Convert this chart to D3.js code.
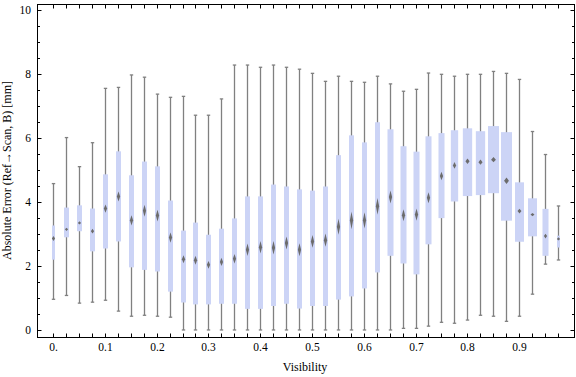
<!DOCTYPE html>
<meta charset="utf-8">
<style>
body { margin: 0; background: #fff; }
text { font-family: "Liberation Serif", "DejaVu Serif", serif; fill: #000; }
</style>
<svg width="576" height="377"></svg>
<script src="https://cdn.jsdelivr.net/npm/d3@7"></script>
<script>

// visibility categories and box statistics (absolute error, mm)
var visibility = [0, 0.025, 0.05, 0.075, 0.1, 0.125, 0.15, 0.175, 0.2, 0.225,
  0.25, 0.275, 0.3, 0.325, 0.35, 0.375, 0.4, 0.425, 0.45, 0.475,
  0.5, 0.525, 0.55, 0.575, 0.6, 0.625, 0.65, 0.675, 0.7, 0.725,
  0.75, 0.775, 0.8, 0.825, 0.85, 0.875, 0.9, 0.925, 0.95, 0.975];

var lows = [0.96, 1.08, 0.84, 0.87, 0.93, 0.59, 0.43, 0.46, 0.43, 0.40,
  0, 0, 0, 0, 0, 0, 0, 0, 0, 0,
  0, 0, 0, 0, 0, 0, 0, 0.05, 0.05, 0.12,
  0.24, 0.21, 0.31, 0.46, 0.43, 0.27, 0.43, 1.12, 2.06, 2.19];

var q1s = [2.20, 2.90, 3.09, 2.46, 2.55, 2.77, 1.96, 1.88, 1.83, 1.20,
  0.86, 0.80, 0.80, 0.82, 0.82, 0.66, 0.66, 0.75, 0.82, 0.67,
  0.75, 0.75, 0.95, 1.05, 1.30, 1.80, 2.32, 2.08, 1.74, 2.68,
  3.50, 4.02, 4.19, 4.22, 4.28, 3.42, 2.76, 2.93, 2.32, 2.58];

var medians = [2.86, 3.15, 3.35, 3.09, 3.80, 4.18, 3.43, 3.73, 3.58, 2.89,
  2.21, 2.18, 2.04, 2.13, 2.23, 2.51, 2.59, 2.57, 2.72, 2.51,
  2.77, 2.81, 3.23, 3.43, 3.43, 3.87, 4.16, 3.59, 3.61, 4.14,
  4.82, 5.15, 5.28, 5.25, 5.33, 4.67, 3.72, 3.61, 2.94, 2.85];

var q3s = [3.27, 3.83, 3.90, 3.80, 4.87, 5.59, 4.84, 5.27, 5.12, 4.05,
  3.11, 3.36, 2.98, 3.17, 3.49, 4.18, 4.18, 4.55, 4.49, 4.40,
  4.36, 4.49, 5.47, 6.09, 5.87, 6.50, 6.28, 5.75, 5.58, 6.06,
  6.16, 6.25, 6.31, 6.22, 6.38, 6.19, 4.62, 4.12, 3.79, 2.95];

var highs = [4.58, 6.02, 5.11, 5.86, 7.56, 7.59, 7.98, 7.91, 7.38, 7.28,
  7.31, 6.72, 6.72, 7.23, 8.29, 8.29, 8.22, 8.29, 8.22, 8.16,
  8.03, 7.78, 7.94, 7.78, 7.75, 7.94, 7.70, 7.47, 7.53, 8.04,
  8.00, 7.94, 8.00, 8.00, 8.09, 8.03, 7.84, 6.21, 5.49, 3.88];

// sample counts per bin (box width is proportional)
var counts = [480, 800, 800, 800, 800, 800, 800, 800, 800, 800,
  800, 800, 800, 800, 800, 800, 800, 800, 800, 800,
  800, 800, 800, 800, 800, 800, 960, 960, 960, 960,
  960, 1170, 1490, 1490, 1760, 1760, 1440, 1440, 960, 480];

var xTickValues = [0, 0.1, 0.2, 0.3, 0.4, 0.5, 0.6, 0.7, 0.8, 0.9];
var yTickValues = [0, 2, 4, 6, 8, 10];
var yMinorValues = [0.5, 1, 1.5, 2.5, 3, 3.5, 4.5, 5, 5.5, 6.5, 7, 7.5, 8.5, 9, 9.5];

var svg = d3.select("svg");
var pLeft = 37, pRight = 575, pTop = 4, pBottom = 337;

var x = d3.scaleLinear().domain([-0.031, 1.008]).range([pLeft, pRight]);
var y = d3.scaleLinear().domain([-0.22, 10.2]).range([pBottom, pTop]);
var w = d3.scaleLinear().domain([0, 1760]).range([0, 11]);

var data = visibility.map(function (v, i) {
  return { v: v, lo: lows[i], q1: q1s[i], med: medians[i], q3: q3s[i], hi: highs[i], n: counts[i] };
});

var defs = svg.append("defs");
defs.append("filter").attr("id", "soft")
    .attr("x", "-50%").attr("y", "-50%").attr("width", "200%").attr("height", "200%")
  .append("feGaussianBlur").attr("stdDeviation", 0.55);

var plot = svg.append("g");

// whiskers
var whisk = plot.append("g").attr("stroke", "#808080").attr("stroke-width", 1.3).attr("fill", "none");
data.forEach(function (d) {
  var cx = Math.round(x(d.v)) + 0.5;
  whisk.append("line").attr("x1", cx).attr("x2", cx).attr("y1", y(d.lo)).attr("y2", y(d.hi));
  whisk.append("line").attr("x1", cx - 1.7).attr("x2", cx + 1.7).attr("y1", y(d.hi)).attr("y2", y(d.hi));
  whisk.append("line").attr("x1", cx - 1.7).attr("x2", cx + 1.7).attr("y1", y(d.lo)).attr("y2", y(d.lo));
});

// boxes
plot.append("g").selectAll("rect")
  .data(data)
  .enter().append("rect")
    .attr("x", function (d) { return Math.round(x(d.v)) + 0.5 - w(d.n) / 2; })
    .attr("width", function (d) { return w(d.n); })
    .attr("y", function (d) { return y(d.q3); })
    .attr("height", function (d) { return y(d.q1) - y(d.q3); })
    .attr("fill", "#ccd4f6");

// median markers: diamond spanning the ~95% interval of the median
plot.append("g").attr("filter", "url(#soft)").selectAll("path")
  .data(data)
  .enter().append("path")
    .attr("fill", "#6c6c6c")
    .attr("d", function (d) {
      var cx = Math.round(x(d.v)) + 0.5, cy = y(d.med);
      var half = 1.57 * (d.q3 - d.q1) / Math.sqrt(d.n);
      var hh = Math.max(1.6, y(0) - y(half));
      var hw = Math.max(1.6, w(d.n) * 0.22);
      return "M" + cx + "," + (cy - hh) + "L" + (cx + hw) + "," + cy +
             "L" + cx + "," + (cy + hh) + "L" + (cx - hw) + "," + cy + "Z";
    });

// frame
var frame = svg.append("g").attr("stroke", "#000").attr("stroke-width", 1).attr("fill", "none");
frame.append("rect").attr("x", pLeft + 0.5).attr("y", pTop + 0.5)
    .attr("width", pRight - pLeft - 1).attr("height", pBottom - pTop);

// x ticks at every bin, top and bottom, pointing inward
visibility.forEach(function (v) {
  var px = Math.round(x(v)) + 0.5;
  frame.append("line").attr("x1", px).attr("x2", px).attr("y1", pBottom + 0.5).attr("y2", pBottom - 3.5);
  frame.append("line").attr("x1", px).attr("x2", px).attr("y1", pTop + 0.5).attr("y2", pTop + 4.5);
});

// y ticks, left and right
yTickValues.forEach(function (v) {
  var py = Math.round(y(v)) + 0.5;
  frame.append("line").attr("x1", pLeft + 0.5).attr("x2", pLeft + 4.5).attr("y1", py).attr("y2", py);
  frame.append("line").attr("x1", pRight - 0.5).attr("x2", pRight - 4.5).attr("y1", py).attr("y2", py);
});
yMinorValues.forEach(function (v) {
  var py = Math.round(y(v)) + 0.5;
  frame.append("line").attr("x1", pLeft + 0.5).attr("x2", pLeft + 3).attr("y1", py).attr("y2", py);
  frame.append("line").attr("x1", pRight - 0.5).attr("x2", pRight - 3).attr("y1", py).attr("y2", py);
});

// tick labels
svg.append("g").selectAll("text")
  .data(xTickValues)
  .enter().append("text")
    .attr("x", function (d) { return Math.round(x(d)) + 0.5; })
    .attr("y", 351)
    .attr("text-anchor", "middle")
    .style("font-size", "11.5px")
    .text(function (d) { return d === 0 ? "0." : d3.format(".1f")(d); });

svg.append("g").selectAll("text")
  .data(yTickValues)
  .enter().append("text")
    .attr("x", 31)
    .attr("y", function (d) { return y(d) + 4; })
    .attr("text-anchor", "end")
    .style("font-size", "11.5px")
    .text(function (d) { return d; });

// axis titles
svg.append("text")
    .attr("x", (pLeft + pRight) / 2 - 1)
    .attr("y", 371)
    .attr("text-anchor", "middle")
    .style("font-size", "12px")
    .text("Visibility");

svg.append("text")
    .attr("transform", "translate(11," + ((pTop + pBottom) / 2) + ") rotate(-90)")
    .attr("text-anchor", "middle")
    .style("font-size", "12px")
    .text("Absolute Error (Ref\u2192Scan, B) [mm]");

</script>
